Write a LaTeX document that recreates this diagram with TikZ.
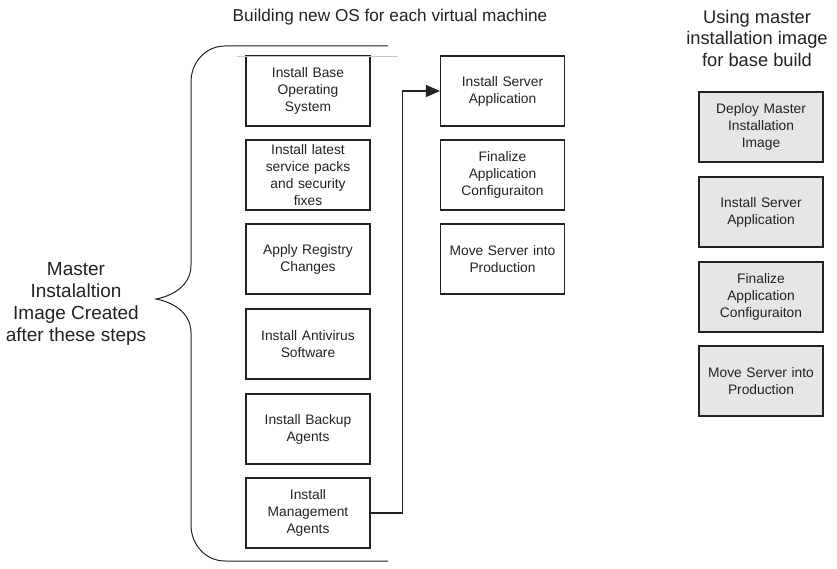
\documentclass[tikz,border=0pt]{standalone}
\usepackage{fontspec}
\setmainfont{Liberation Sans}
\usetikzlibrary{arrows.meta}
\definecolor{inkc}{HTML}{222222}
\definecolor{boxgray}{HTML}{E6E6E6}
\tikzset{
  stepbox/.style={draw=inkc, line width=1.1pt, minimum width=124pt, minimum height=70pt,
    text width=118pt, align=center, inner sep=0pt, text=inkc,
    font=\fontsize{13.8}{17}\selectfont},
  imgbox/.style={stepbox, fill=boxgray},
  headtext/.style={text=inkc, align=center, inner sep=0pt},
  link/.style={draw=inkc, line width=1.1pt, -{Triangle[length=14pt,width=12pt]}},
  bracepath/.style={draw=inkc, line width=1pt}
}
\begin{document}
\begin{tikzpicture}[x=1pt,y=-1pt]
\useasboundingbox (0,0) rectangle (837,569);

% headings
\node[headtext, font=\fontsize{17.2}{20}\selectfont] (titleL) at (390,17) {Building new OS for each virtual machine};
\node[headtext, font=\fontsize{18.3}{21.5}\selectfont] (titleR) at (757,38) {Using master\\installation image\\for base build};

% steps up to the master image
\node[stepbox] (m1) at (308,91)  {Install Base\\Operating\\System};
\node[stepbox] (m2) at (308,175) {Install latest\\service packs\\and security\\fixes};
\node[stepbox] (m3) at (308,259) {Apply Registry\\Changes};
\node[stepbox] (m4) at (308,344) {Install Antivirus\\Software};
\node[stepbox] (m5) at (308,429) {Install Backup\\Agents};
\node[stepbox] (m6) at (308,513) {Install\\Management\\Agents};

% steps after the base build
\node[stepbox] (s1) at (502.5,91)  {Install Server\\Application};
\node[stepbox] (s2) at (502.5,175) {Finalize\\Application\\Configuraiton};
\node[stepbox] (s3) at (502.5,259) {Move Server into\\Production};

% build from the master image
\node[imgbox] (r1) at (761,127) {Deploy Master\\Installation\\Image};
\node[imgbox] (r2) at (761,212) {Install Server\\Application};
\node[imgbox] (r3) at (761,297) {Finalize\\Application\\Configuraiton};
\node[imgbox] (r4) at (761,381) {Move Server into\\Production};

% connector from the last image step to the server application
\draw[link] (m6.east) -- ++(32,0) |- (s1.west);

% brace grouping the image steps
\draw[bracepath] (388,46) -- (225,46)
  .. controls (206,46) and (191,62) .. (191,82)
  -- (191,265)
  .. controls (191,286) and (172,296) .. (156,299)
  .. controls (172,302) and (191,312) .. (191,333)
  -- (191,525)
  .. controls (191,545) and (206,561) .. (225,561)
  -- (388,561);
\draw[gray!45, line width=0.6pt] (237,56) -- (398,56);

\node[headtext, font=\fontsize{19}{22}\selectfont] (label) at (76,304)
  {Master\\Instalaltion\\Image Created\\after these steps};
\end{tikzpicture}
\end{document}
